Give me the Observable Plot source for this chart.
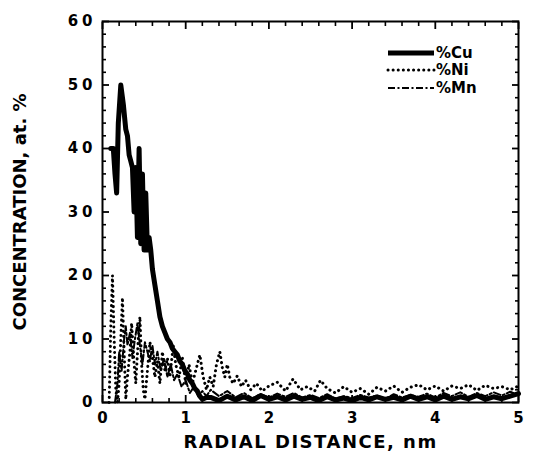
<!DOCTYPE html>
<html><head><meta charset="utf-8">
<script src="https://cdn.jsdelivr.net/npm/d3@7"></script>
<script src="https://cdn.jsdelivr.net/npm/@observablehq/plot@0.6"></script>
<style>
body{margin:0;background:#fff}
#chart{width:533px;height:464px}
svg text{font-family:"DejaVu Sans",sans-serif;font-weight:bold;fill:#000}
g[aria-label="y-axis tick label"] text{letter-spacing:4px}
</style></head><body><div id="chart"></div>
<script>
// Radial distance (nm), concentration (at. %)
const cuPoints = [[0.10,40],[0.13,40],[0.15,36],[0.17,33],[0.19,44],[0.22,50],[0.25,47],[0.28,43],[0.30,42],[0.32,39],[0.34,38],[0.36,37],[0.38,30],[0.40,37],[0.42,26],[0.44,40],[0.46,25],[0.48,36],[0.50,24],[0.52,33],[0.54,24],[0.56,26],[0.58,24],[0.60,21],[0.63,18.5],[0.66,16],[0.69,13.5],[0.72,12],[0.75,11],[0.78,10],[0.81,9.5],[0.84,8.5],[0.87,8],[0.90,7.5],[0.93,6.5],[0.96,6],[0.99,5],[1.02,4.5],[1.05,3.5],[1.08,3],[1.11,2.2],[1.14,1.8],[1.17,1],[1.20,0.5],[1.25,0.8],[1.3,0.8],[1.4,0.3],[1.5,1.0],[1.6,0.4],[1.7,0.9],[1.8,0.3],[1.9,1.1],[2.0,0.5],[2.1,0.9],[2.2,0.4],[2.3,1.0],[2.4,0.5],[2.5,0.8],[2.6,0.3],[2.7,0.9],[2.8,0.4],[2.9,0.7],[3.0,0.3],[3.1,0.8],[3.2,0.4],[3.3,0.9],[3.4,0.5],[3.5,0.8],[3.6,0.4],[3.7,1.0],[3.8,0.5],[3.9,0.9],[4.0,0.4],[4.1,1.0],[4.2,0.5],[4.3,0.9],[4.4,0.6],[4.5,1.1],[4.6,0.5],[4.7,0.9],[4.8,0.6],[4.9,1.0],[5.0,1.4]];
const niPoints = [[0.08,0],[0.10,12],[0.12,20],[0.14,10],[0.16,2],[0.18,0],[0.20,3],[0.22,10],[0.24,16.5],[0.26,8],[0.28,0.5],[0.30,4],[0.33,8],[0.35,12.5],[0.38,6],[0.40,3],[0.43,10],[0.45,13.5],[0.47,6],[0.49,2],[0.51,0.5],[0.54,5],[0.57,9.5],[0.60,7],[0.63,4],[0.66,6.5],[0.69,3],[0.72,8],[0.75,5],[0.78,7],[0.81,4],[0.85,9],[0.88,6],[0.92,4],[0.96,7],[1.00,3],[1.04,6],[1.08,3],[1.12,5],[1.17,7.5],[1.21,4],[1.25,2],[1.29,4],[1.33,2.5],[1.37,6],[1.41,8],[1.44,5.5],[1.47,4],[1.50,6],[1.53,4],[1.57,3],[1.62,4.2],[1.67,2.5],[1.72,3.5],[1.78,2],[1.85,3],[1.92,1.8],[2.0,2.6],[2.1,3.2],[2.2,1.8],[2.29,3.7],[2.38,2],[2.46,2.5],[2.55,1.8],[2.62,3.5],[2.7,2.2],[2.8,1.5],[2.9,2.5],[3.0,1.6],[3.1,2.2],[3.2,1.3],[3.3,2.4],[3.4,1.8],[3.5,2.6],[3.6,1.6],[3.7,2.4],[3.8,2.8],[3.9,2.0],[4.0,2.6],[4.1,1.8],[4.2,2.6],[4.3,2.2],[4.4,2.8],[4.5,1.9],[4.6,2.7],[4.7,2.2],[4.8,2.5],[4.9,2.0],[5.0,2.6]];
const mnPoints = [[0.15,0],[0.18,3],[0.20,8],[0.23,5],[0.26,10],[0.28,12],[0.30,9],[0.33,11],[0.36,7],[0.39,10],[0.42,12.5],[0.45,9],[0.48,6],[0.51,9.5],[0.54,8],[0.57,6.5],[0.60,9],[0.63,6],[0.66,8],[0.70,5],[0.74,7],[0.78,4],[0.82,6],[0.86,3.5],[0.90,4.5],[0.95,2.5],[1.00,3.5],[1.05,1.5],[1.10,2.5],[1.15,1],[1.20,1.8],[1.25,1.0],[1.3,2],[1.4,1],[1.5,1.8],[1.6,0.8],[1.7,1.5],[1.8,0.7],[1.9,1.3],[2.0,0.8],[2.1,1.4],[2.2,0.9],[2.3,1.5],[2.4,0.8],[2.5,1.2],[2.6,0.7],[2.7,1.3],[2.8,0.6],[2.9,1.0],[3.0,0.7],[3.1,1.2],[3.2,0.8],[3.3,1.1],[3.4,0.6],[3.5,1.3],[3.6,0.8],[3.7,1.2],[3.8,0.9],[3.9,1.4],[4.0,0.8],[4.1,1.5],[4.2,1.0],[4.3,1.6],[4.4,0.9],[4.5,1.5],[4.6,1.0],[4.7,1.6],[4.8,1.1],[4.9,1.7],[5.0,1.2]];

const xMajorTicks = [0,1,2,3,4,5];
const xMinorTicks = [0.2,0.4,0.6,0.8,1.2,1.4,1.6,1.8,2.2,2.4,2.6,2.8,3.2,3.4,3.6,3.8,4.2,4.4,4.6,4.8];
const yMajorTicks = [0,10,20,30,40,50,60];
const yMinorTicks = [2,4,6,8,12,14,16,18,22,24,26,28,32,34,36,38,42,44,46,48,52,54,56,58];
const xTitle = "RADIAL DISTANCE, nm";
const yTitle = "CONCENTRATION, at. %";
const legendLabels = ["%Cu","%Ni","%Mn"];

const rows = pts => pts.map(([dist, conc]) => ({dist, conc}));
const cu = rows(cuPoints), ni = rows(niPoints), mn = rows(mnPoints);

const cuStyle = {stroke:"#000", strokeWidth:5, strokeLinejoin:"round", strokeLinecap:"round"};
const niStyle = {stroke:"#000", strokeWidth:3, strokeDasharray:"0.1,5", strokeLinecap:"round"};
const mnStyle = {stroke:"#000", strokeWidth:2, strokeDasharray:"7,2.5,2,2.5"};

const blank = () => "";
const intFmt = d3.format("d");
const plot = Plot.plot({
  width:533, height:464,
  marginLeft:102, marginRight:15, marginTop:21, marginBottom:62,
  x:{domain:[0,5], label:null},
  y:{domain:[0,60], label:null},
  style:{fontFamily:"DejaVu Sans", fontWeight:"bold", background:"#fff", color:"#000"},
  marks:[
    Plot.line(mn, {x:"dist", y:"conc", ...mnStyle}),
    Plot.line(ni, {x:"dist", y:"conc", ...niStyle}),
    Plot.line(cu, {x:"dist", y:"conc", ...cuStyle}),
    Plot.frame({stroke:"#000", strokeWidth:2}),
    // inward ticks on all four sides
    Plot.axisX({anchor:"bottom", ticks:xMinorTicks, tickSize:4, dy:-4, tickFormat:blank, strokeWidth:1.6, label:null}),
    Plot.axisX({anchor:"bottom", ticks:xMajorTicks, tickSize:7, dy:-7, tickFormat:blank, strokeWidth:1.8, label:null}),
    Plot.axisX({anchor:"top", ticks:xMinorTicks, tickSize:4, dy:4, tickFormat:blank, strokeWidth:1.6, label:null}),
    Plot.axisX({anchor:"top", ticks:xMajorTicks, tickSize:7, dy:7, tickFormat:blank, strokeWidth:1.8, label:null}),
    Plot.axisY({anchor:"left", ticks:yMinorTicks, tickSize:4, dx:4, tickFormat:blank, strokeWidth:1.6, label:null}),
    Plot.axisY({anchor:"left", ticks:yMajorTicks, tickSize:7, dx:7, tickFormat:blank, strokeWidth:1.8, label:null}),
    Plot.axisY({anchor:"right", ticks:yMinorTicks, tickSize:4, dx:-4, tickFormat:blank, strokeWidth:1.6, label:null}),
    Plot.axisY({anchor:"right", ticks:yMajorTicks, tickSize:7, dx:-7, tickFormat:blank, strokeWidth:1.8, label:null}),
    // tick labels
    Plot.axisX({anchor:"bottom", ticks:xMajorTicks, tickSize:0, tickPadding:10, fontSize:15, tickFormat:intFmt, label:null}),
    Plot.axisY({anchor:"left", ticks:yMajorTicks, tickSize:0, tickPadding:6, fontSize:15, tickFormat:intFmt, label:null}),
    // axis titles
    Plot.text([xTitle], {text:d=>d, frameAnchor:"bottom", textAnchor:"middle", dy:45, fontSize:18, fontWeight:"bold"}),
    Plot.text([yTitle], {text:d=>d, frameAnchor:"left", textAnchor:"middle", dx:-82, rotate:-90, fontSize:18, fontWeight:"bold"})
  ]
});
document.getElementById("chart").appendChild(plot);

const svg = d3.select(plot);
// wider tracking for the x-axis title, as in the original typesetting
svg.selectAll("text").filter(function(){ return this.textContent === xTitle; })
  .style("letter-spacing","1.5px");

// legend (inside the plot, upper right)
const lg = svg.append("g").attr("class","legend");
const styles = [cuStyle, niStyle, mnStyle];
const rowY = [53, 70, 88];
legendLabels.forEach((lab, i) => {
  const s = styles[i];
  lg.append("line").attr("x1",388).attr("x2",434).attr("y1",rowY[i]).attr("y2",rowY[i])
    .attr("stroke","#000").attr("stroke-width", s.strokeWidth)
    .attr("stroke-dasharray", s.strokeDasharray || null)
    .attr("stroke-linecap", i===0 ? "butt" : (s.strokeLinecap || "butt"));
  lg.append("text").attr("x",436).attr("y",rowY[i]).attr("dy","0.36em")
    .attr("text-anchor","start").attr("font-size",15).attr("font-weight","bold").text(lab);
});
</script>
</body></html>
